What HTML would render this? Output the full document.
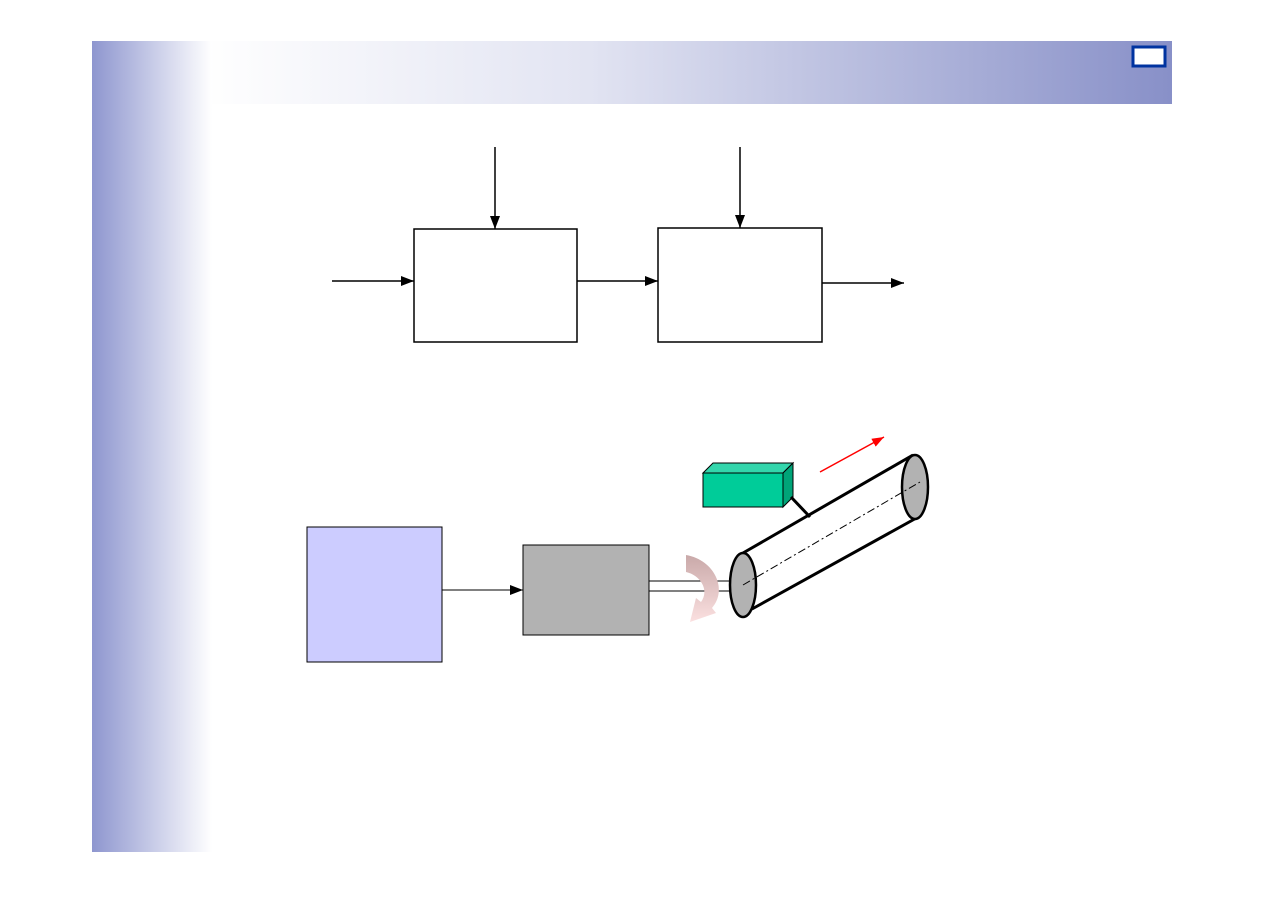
<!DOCTYPE html>
<html><head><style>body{margin:0;background:#fff}</style></head><body>
<svg width="1263" height="893" xmlns="http://www.w3.org/2000/svg">
<defs>
<linearGradient id="lg" x1="0" x2="1"><stop offset="0" stop-color="#8e96cf"/><stop offset="1" stop-color="#fff"/></linearGradient>
<linearGradient id="tg" x1="0" x2="1"><stop offset="0" stop-color="#fff"/><stop offset="0.4" stop-color="#e2e4f2"/><stop offset="1" stop-color="#8890c8"/></linearGradient>
<linearGradient id="cg" x1="0" y1="0" x2="0" y2="1"><stop offset="0" stop-color="#c9a9a9"/><stop offset="1" stop-color="#fbe0e0"/></linearGradient>
<marker id="a" markerWidth="13" markerHeight="10" refX="13" refY="5" orient="auto" markerUnits="userSpaceOnUse"><path d="M0,0L13,5L0,10z" fill="#000"/></marker>
<marker id="r" markerWidth="12" markerHeight="9" refX="12" refY="4.5" orient="auto" markerUnits="userSpaceOnUse"><path d="M0,0L12,4.5L0,9z" fill="red"/></marker>
</defs>
<rect x="200" y="41" width="972" height="63" fill="url(#tg)"/>
<rect x="92" y="41" width="120" height="811" fill="url(#lg)"/>
<rect x="1133" y="47" width="32" height="19" fill="#fff" stroke="#0033a0" stroke-width="3"/>
<g stroke="#000" stroke-width="1.5" fill="none">
<rect x="414" y="229" width="163" height="113" fill="#fff"/>
<rect x="658" y="228" width="164" height="114" fill="#fff"/>
<line x1="495" y1="147" x2="495" y2="229" marker-end="url(#a)"/>
<line x1="740" y1="147" x2="740" y2="228" marker-end="url(#a)"/>
<line x1="332" y1="281" x2="414" y2="281" marker-end="url(#a)"/>
<line x1="577" y1="281" x2="658" y2="281" marker-end="url(#a)"/>
<line x1="822" y1="283" x2="904" y2="283" marker-end="url(#a)"/>
</g>
<rect x="307" y="527" width="135" height="135" fill="#ccf" stroke="#000"/>
<rect x="523" y="545" width="126" height="90" fill="#b2b2b2" stroke="#000"/>
<line x1="442" y1="590" x2="523" y2="590" stroke="#000" marker-end="url(#a)"/>
<line x1="649" y1="581" x2="732" y2="581" stroke="#000"/>
<line x1="649" y1="591" x2="732" y2="591" stroke="#000"/>
<path d="M686,555 C715,560 728,590 712,608 L716,613 L690,622 L696,598 L701,602 C710,590 700,575 686,572 Z" fill="url(#cg)"/>
<line x1="743" y1="553" x2="913" y2="455" stroke="#000" stroke-width="3"/>
<line x1="752" y1="609" x2="920" y2="516" stroke="#000" stroke-width="3"/>
<ellipse cx="915" cy="487" rx="13" ry="32" fill="#b2b2b2" stroke="#000" stroke-width="2.5"/>
<ellipse cx="743" cy="585" rx="13" ry="32" fill="#b2b2b2" stroke="#000" stroke-width="2.5"/>
<line x1="743" y1="585" x2="920" y2="482" stroke="#000" stroke-dasharray="8,3,2,3"/>
<polygon points="703,473 713,463 793,463 783,473" fill="#33d6ac" stroke="#000"/>
<polygon points="783,473 793,463 793,497 783,507" fill="#00a478" stroke="#000"/>
<rect x="703" y="473" width="80" height="34" fill="#00cc99" stroke="#000"/>
<line x1="791" y1="497" x2="810" y2="517" stroke="#000" stroke-width="3"/>
<line x1="820" y1="472" x2="884" y2="437" stroke="red" stroke-width="1.5" marker-end="url(#r)"/>
</svg>
</body></html>
